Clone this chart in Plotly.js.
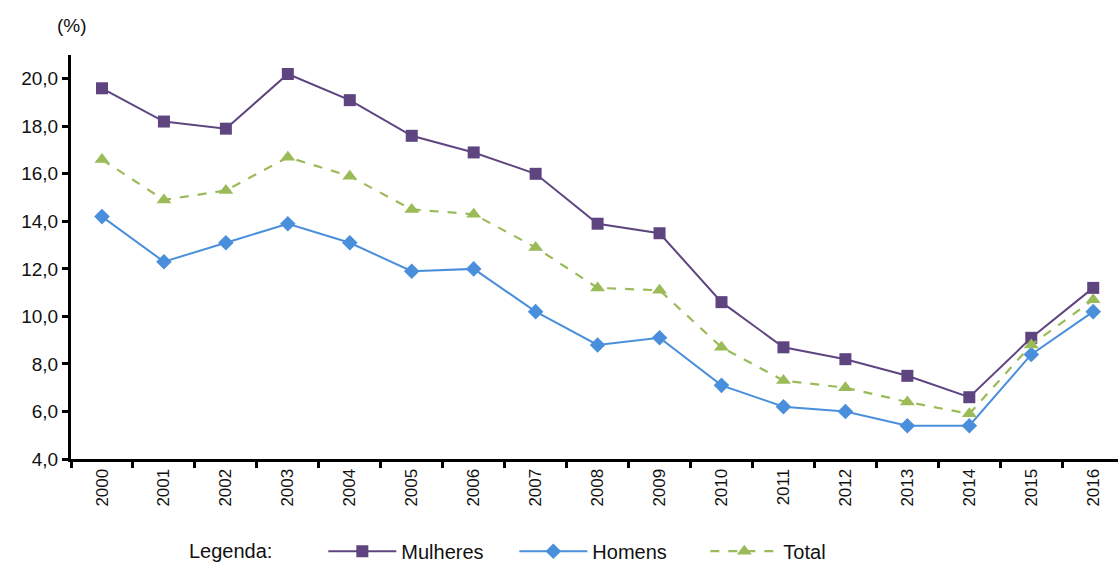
<!DOCTYPE html>
<html><head><meta charset="utf-8">
<script src="https://cdn.plot.ly/plotly-3.0.1.min.js"></script>
<style>html,body{margin:0;padding:0;background:#fff}</style>
</head><body>
<div id="chart" style="width:1118px;height:563px"></div>
<script>
const years = ["2000","2001","2002","2003","2004","2005","2006","2007","2008","2009","2010","2011","2012","2013","2014","2015","2016"];
const mulheres = [19.6,18.2,17.9,20.2,19.1,17.6,16.9,16.0,13.9,13.5,10.6,8.7,8.2,7.5,6.6,9.1,11.2];
const homens = [14.2,12.3,13.1,13.9,13.1,11.9,12.0,10.2,8.8,9.1,7.1,6.2,6.0,5.4,5.4,8.4,10.2];
const total = [16.6,14.9,15.3,16.7,15.9,14.5,14.3,12.9,11.2,11.1,8.7,7.3,7.0,6.4,5.9,8.8,10.7];

const font = "Liberation Sans, Arial, sans-serif";
const traces = [
  {x: years, y: mulheres, name: "Mulheres", type: "scatter", mode: "lines+markers",
   line: {color: "#5E4580", width: 2}, marker: {symbol: "square", size: 12, color: "#5E4580"}},
  {x: years, y: homens, name: "Homens", type: "scatter", mode: "lines+markers",
   line: {color: "#4A8FDB", width: 2}, marker: {symbol: "diamond", size: 12, color: "#4A8FDB"}},
  {x: years, y: total, name: "Total", type: "scatter", mode: "lines+markers",
   line: {color: "#9BBB59", width: 2.2, dash: "dash"}, marker: {symbol: "triangle-up", size: 13, color: "#9BBB59"}}
];
const layout = {
  width: 1118, height: 563,
  margin: {l: 71, r: 0, t: 55, b: 104},
  paper_bgcolor: "#fff", plot_bgcolor: "#fff",
  separators: ",.",
  font: {family: font, size: 18, color: "#111"},
  showlegend: true,
  legend: {orientation: "h", x: 0.241, xanchor: "left", xref: "paper",
           yref: "container", y: 0.021, yanchor: "middle",
           font: {family: font, size: 20, color: "#111"}, itemwidth: 68, entrywidth: 108,
           traceorder: "normal"},
  xaxis: {type: "category", range: [-0.5, 16.4], showgrid: false, zeroline: false,
          showline: true, linecolor: "#000", linewidth: 3,
          ticks: "outside", tickson: "boundaries", ticklen: 6, tickwidth: 3, tickcolor: "#000",
          tickangle: -90, tickfont: {family: font, size: 17, color: "#111"}},
  yaxis: {range: [4, 21], tickvals: [4,6,8,10,12,14,16,18,20], tickformat: ".1f",
          showgrid: false, zeroline: false, showline: true, linecolor: "#000", linewidth: 3,
          ticks: "outside", ticklen: 6, tickwidth: 3, tickcolor: "#000",
          tickfont: {family: font, size: 19, color: "#111"}},
  annotations: [
    {text: "(%)", xref: "paper", yref: "paper", x: 0.0, y: 1.0, xshift: 1, yshift: 30,
     xanchor: "center", yanchor: "middle", showarrow: false, font: {family: font, size: 19, color: "#111"}},
    {text: "Legenda:", xref: "paper", yref: "paper", x: 0.111, y: -0.228, xanchor: "left", yanchor: "middle",
     showarrow: false, font: {family: font, size: 20, color: "#111"}}
  ]
};
Plotly.newPlot("chart", traces, layout, {displayModeBar: false, staticPlot: true});
</script>
</body></html>
